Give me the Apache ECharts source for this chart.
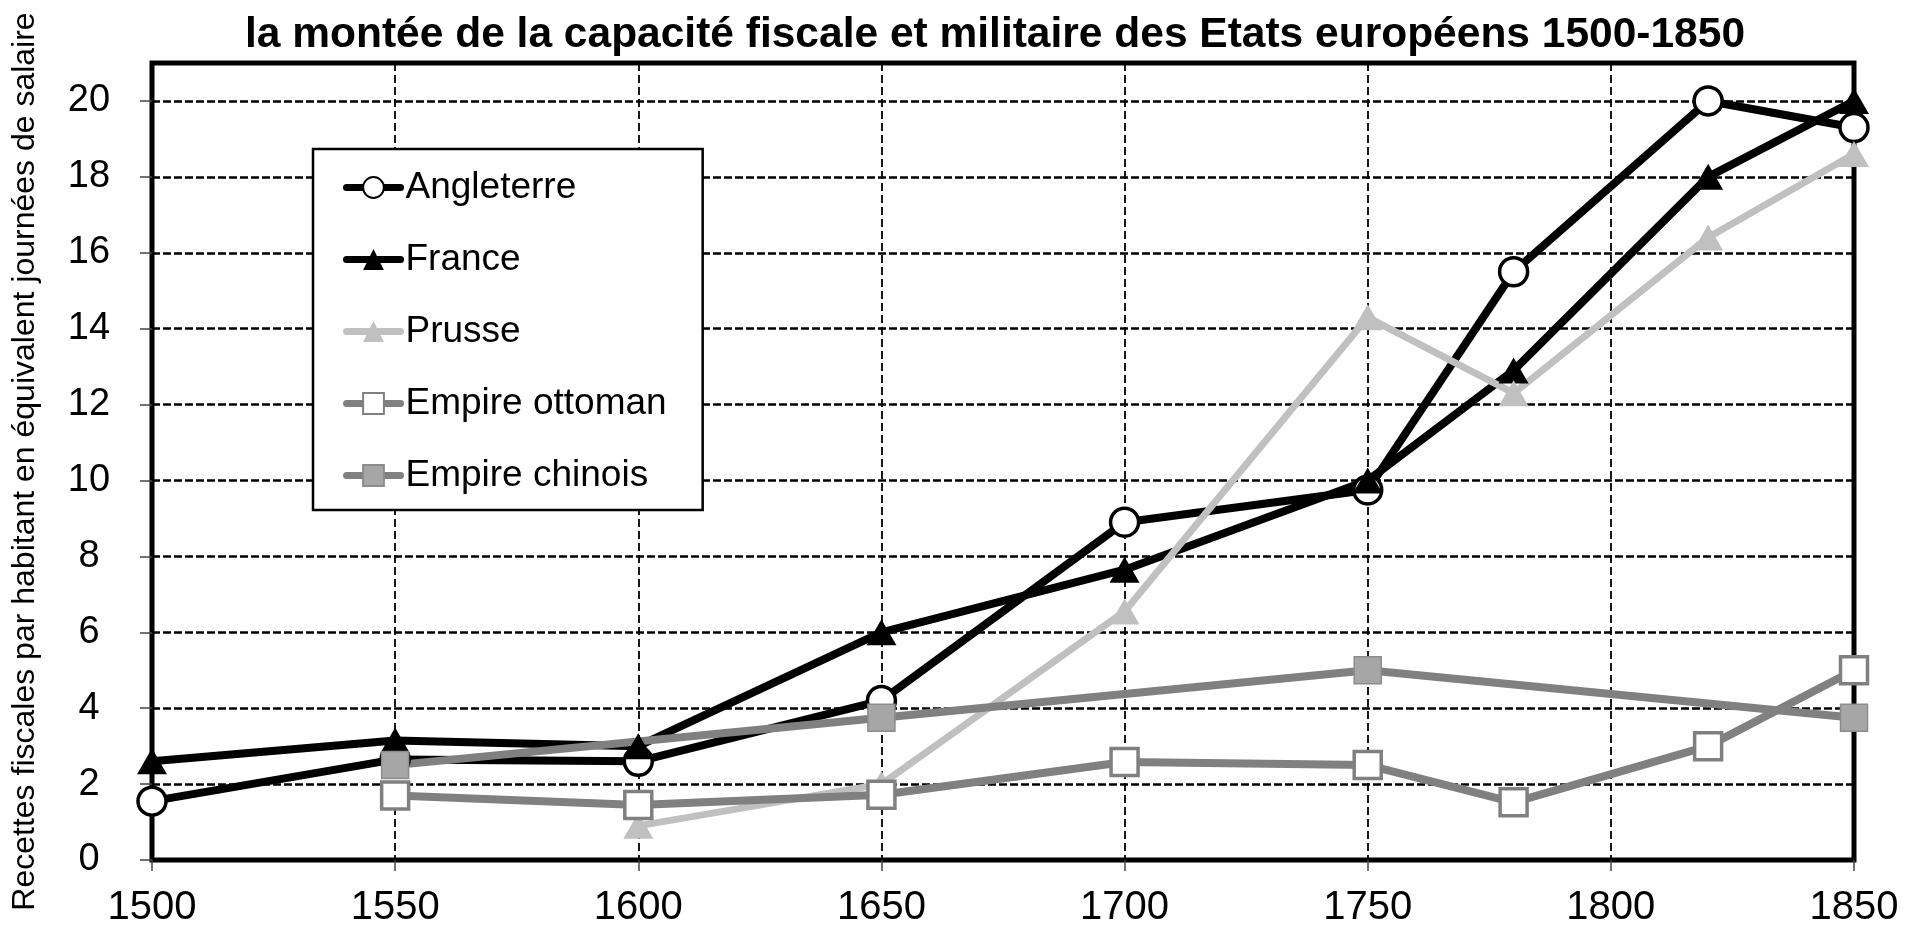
<!DOCTYPE html>
<html>
<head>
<meta charset="utf-8">
<script src="https://cdn.jsdelivr.net/npm/echarts@6/dist/echarts.min.js"></script>
<style>
  html, body { margin: 0; padding: 0; background: #fff; }
  #chartBox { width: 1919px; height: 931px; }
</style>
</head>
<body>
<div id="chartBox"></div>
<script>
// graduations des axes
const xTicks = [1500, 1550, 1600, 1650, 1700, 1750, 1800, 1850];
const yTicks = [0, 2, 4, 6, 8, 10, 12, 14, 16, 18, 20];

// séries : années et recettes (journées de salaire par habitant)
const yearsAll = [1500, 1550, 1600, 1650, 1700, 1750, 1780, 1820, 1850];
const angleterre = [1.55, 2.65, 2.6, 4.2, 8.9, 9.75, 15.5, 20.0, 19.3];
const france = [2.6, 3.15, 3.0, 6.0, 7.65, 10.0, 12.9, 18.0, 20.0];

const yearsPrusse = [1600, 1650, 1700, 1750, 1780, 1820, 1850];
const prusse = [0.9, 2.0, 6.55, 14.3, 12.3, 16.4, 18.6];

const yearsOttoman = [1550, 1600, 1650, 1700, 1750, 1780, 1820, 1850];
const ottoman = [1.7, 1.45, 1.72, 2.58, 2.5, 1.52, 3.0, 5.0];

const yearsChine = [1550, 1650, 1750, 1850];
const chine = [2.5, 3.75, 5.0, 3.75];

const names = ['Angleterre', 'France', 'Prusse', 'Empire ottoman', 'Empire chinois'];

const font = "'Liberation Sans', Arial, sans-serif";

function pairs(xs, ys) {
  return xs.map((x, i) => [x, ys[i]]);
}

let myChart = echarts.init(document.getElementById('chartBox'));

let option = {
  backgroundColor: '#fff',
  animation: false,
  title: [
    {
      text: 'la montée de la capacité fiscale et militaire des Etats européens 1500-1850',
      left: 245,
      top: 14,
      padding: 0,
      textStyle: { color: '#000', fontFamily: font, fontWeight: 'bold', fontSize: 42.5 }
    }
  ],
  grid: {
    left: 152,
    right: 65,
    top: 63,
    bottom: 71,
    show: true,
    borderColor: '#000',
    borderWidth: 5,
    backgroundColor: '#fff'
  },
  legend: {
    orient: 'vertical',
    left: 313,
    top: 149,
    data: names,
    backgroundColor: '#fff',
    borderColor: '#000',
    borderWidth: 2.5,
    padding: [20, 36, 16, 30],
    itemGap: 35,
    itemWidth: 54,
    itemHeight: 26,
    lineStyle: { width: 7, cap: 'round' },
    textStyle: { color: '#000', fontSize: 37, fontFamily: font }
  },
  xAxis: {
    type: 'value',
    min: 1500,
    max: 1850,
    interval: 50,
    axisLine: { show: false },
    axisTick: { show: true, length: 11, lineStyle: { color: '#444', width: 1.5 } },
    axisLabel: {
      color: '#000',
      fontFamily: font,
      fontSize: 40,
      margin: 28,
      customValues: xTicks,
      formatter: function (value) {
        return String(value);
      }
    },
    splitLine: { show: true, lineStyle: { color: '#000', width: 1.8, type: [8, 4] } }
  },
  yAxis: {
    type: 'value',
    min: 0,
    max: 21,
    interval: 2,
    name: 'Recettes fiscales par habitant en équivalent journées de salaire',
    nameLocation: 'middle',
    nameGap: 111,
    nameTextStyle: { color: '#000', fontFamily: font, fontSize: 32 },
    axisLine: { show: false },
    axisTick: { show: true, length: 12, lineStyle: { color: '#444', width: 1.5 }, customValues: yTicks },
    axisLabel: {
      color: '#000',
      fontFamily: font,
      fontSize: 38,
      margin: 63,
      align: 'center',
      customValues: yTicks
    },
    splitLine: { show: true, lineStyle: { color: '#000', width: 2.5, type: [8, 3] } }
  },
  series: [
    {
      name: 'Angleterre',
      type: 'line',
      data: pairs(yearsAll, angleterre),
      symbol: 'circle',
      symbolSize: 28,
      lineStyle: { color: '#000', width: 8 },
      itemStyle: { color: '#fff', borderColor: '#000', borderWidth: 3.5 }
    },
    {
      name: 'France',
      type: 'line',
      data: pairs(yearsAll, france),
      symbol: 'triangle',
      symbolSize: [30, 26],
      lineStyle: { color: '#000', width: 8 },
      itemStyle: { color: '#000' }
    },
    {
      name: 'Prusse',
      type: 'line',
      data: pairs(yearsPrusse, prusse),
      symbol: 'triangle',
      symbolSize: [30, 26],
      lineStyle: { color: '#c0c0c0', width: 7 },
      itemStyle: { color: '#c0c0c0' }
    },
    {
      name: 'Empire ottoman',
      type: 'line',
      data: pairs(yearsOttoman, ottoman),
      symbol: 'rect',
      symbolSize: 27,
      lineStyle: { color: '#808080', width: 8 },
      itemStyle: { color: '#fff', borderColor: '#808080', borderWidth: 3.5 }
    },
    {
      name: 'Empire chinois',
      type: 'line',
      data: pairs(yearsChine, chine),
      symbol: 'rect',
      symbolSize: 27,
      lineStyle: { color: '#808080', width: 8 },
      itemStyle: { color: '#a6a6a6', borderColor: '#8c8c8c', borderWidth: 1.5 }
    }
  ]
};

myChart.setOption(option);
</script>
</body>
</html>
